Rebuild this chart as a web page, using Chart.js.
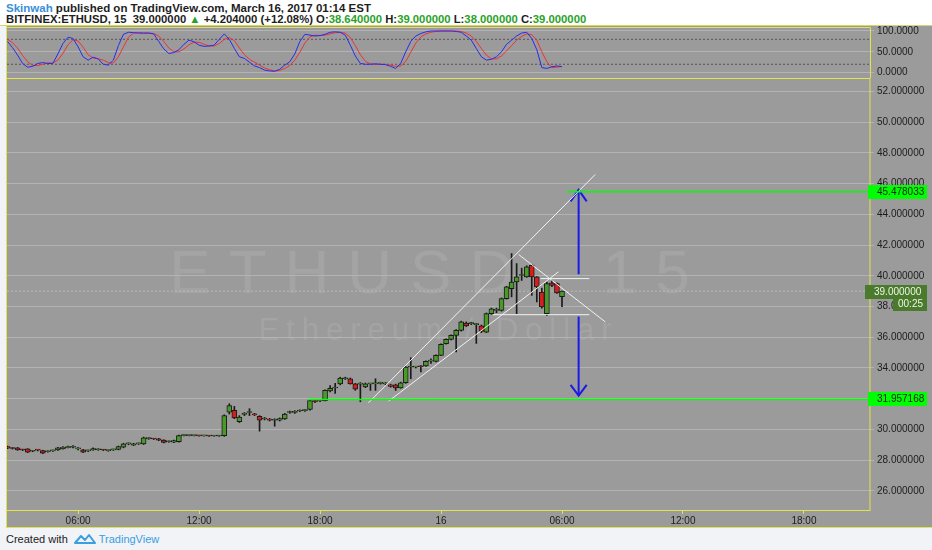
<!DOCTYPE html>
<html><head><meta charset="utf-8">
<script src="https://cdn.jsdelivr.net/npm/chart.js@4/dist/chart.umd.min.js"></script>
<style>
html,body{margin:0;padding:0;width:932px;height:550px;overflow:hidden;background:#f1f3f7;font-family:"Liberation Sans",Arial,sans-serif;}
#header{position:absolute;left:0;top:0;width:932px;height:26px;background:#ffffff;border-bottom:1px solid #d6d66a;box-sizing:border-box;}
.hl{position:absolute;left:6px;font-size:11.5px;font-weight:bold;color:#1e1e1e;white-space:nowrap;line-height:12px;}
.g{color:#2aa22a;}
#panel{position:absolute;left:6px;top:26px;width:926px;height:502px;background:#9b9b9b;box-sizing:border-box;border-left:1px solid #e3e34a;border-bottom:1px solid #e3e34a;}
.wm{position:absolute;white-space:nowrap;color:rgba(255,255,255,0.09);text-align:center;left:7px;width:863px;}
#wm1{top:241px;font-size:62px;line-height:62px;letter-spacing:18px;}
#wm2{top:314px;font-size:31px;line-height:31px;letter-spacing:7px;}
canvas{position:absolute;left:0;}
#stoch{top:26px;}
#main{top:78px;}
#footer{position:absolute;left:6px;top:532px;font-size:11px;color:#222;white-space:nowrap;line-height:14px;}
#footer .tv{color:#3a9ee0;}
</style></head>
<body>
<div id="header">
  <div class="hl" style="top:2px"><span style="color:#3b8fd8">Skinwah</span> published on TradingView.com, March 16, 2017 01:14 EST</div>
  <div class="hl" style="top:13px;font-size:11.3px">BITFINEX:ETHUSD, 15&nbsp; 39.000000 <span class="g">▲</span> +4.204000 (+12.08%) O:<span class="g">38.640000</span> H:<span class="g">39.000000</span> L:<span class="g">38.000000</span> C:<span class="g">39.000000</span></div>
</div>
<div id="panel"></div>
<div class="wm" id="wm1">ETHUSD, 15</div>
<div class="wm" id="wm2">Ethereum / Dollar</div>
<canvas id="stoch" width="932" height="52"></canvas>
<canvas id="main" width="932" height="450"></canvas>
<div id="footer">Created with &nbsp;<svg width="22" height="12" viewBox="0 0 22 12" style="vertical-align:-2px"><path d="M1 10 L7 3 L11 7 L15 2 L21 10 Z" fill="none" stroke="#3a9ee0" stroke-width="2" stroke-linejoin="round"/></svg> <span class="tv">TradingView</span></div>
<script>
// ---------- DATA ----------
const candleTimes = [
"02:30","02:45",
"03:00","03:15","03:30","03:45","04:00","04:15","04:30","04:45","05:00","05:15","05:30","05:45",
"06:00","06:15","06:30","06:45","07:00","07:15","07:30","07:45","08:00","08:15","08:30","08:45",
"09:00","09:15","09:30","09:45","10:00","10:15","10:30","10:45","11:00","11:15","11:30","11:45",
"12:00","12:15","12:30","12:45","13:00","13:15","13:30","13:45","14:00","14:15","14:30","14:45",
"15:00","15:15","15:30","15:45","16:00","16:15","16:30","16:45","17:00","17:15","17:30","17:45",
"18:00","18:15","18:30","18:45","19:00","19:15","19:30","19:45","20:00","20:15","20:30","20:45",
"21:00","21:15","21:30","21:45","22:00","22:15","22:30","22:45","23:00","23:15","23:30","23:45",
"00:00","00:15","00:30","00:45","01:00","01:15","01:30","01:45","02:00","02:15","02:30","02:45",
"03:00","03:15","03:30","03:45","04:00","04:15","04:30","04:45","05:00","05:15","05:30","05:45",
"06:00"];
const opens = [
28.88,28.78,28.80,28.68,28.73,28.58,28.67,28.62,28.55,28.60,
28.67,28.75,28.82,28.84,28.73,28.67,28.60,28.67,28.68,28.67,
28.62,28.67,28.70,28.84,29.06,28.98,29.06,29.06,29.40,29.39,
29.39,29.30,29.20,29.17,29.20,29.60,29.60,29.60,29.60,29.58,
29.58,29.57,29.57,29.60,31.12,31.25,30.51,30.98,31.10,31.02,
30.85,30.68,30.68,30.60,30.60,30.69,31.10,31.10,31.20,31.22,
31.30,31.88,31.85,31.88,32.50,32.70,32.97,33.30,33.30,32.97,
32.95,32.76,32.97,32.97,33.00,32.97,32.91,32.91,32.71,33.04,
34.05,34.06,34.13,34.13,34.45,34.43,34.82,35.58,35.86,36.12,
36.45,36.93,36.89,36.82,36.74,36.34,37.54,37.75,37.75,38.52,
39.17,39.60,40.02,39.93,40.69,39.93,38.95,37.54,39.54,39.50,38.64];
const highs = [
28.92,28.82,28.83,28.72,28.75,28.64,28.70,28.65,28.60,28.66,
28.83,28.88,28.92,28.95,28.82,28.70,28.66,28.80,28.74,28.70,
28.66,28.72,28.92,29.10,29.12,29.10,29.12,29.50,29.46,29.42,
29.42,29.33,29.25,29.30,29.64,29.65,29.64,29.62,29.62,29.60,
29.60,29.59,29.62,30.95,31.67,31.50,30.90,31.10,31.35,31.05,
30.90,30.78,30.72,30.70,30.75,31.05,31.20,31.22,31.28,31.30,
31.92,31.95,31.92,32.58,32.85,33.00,33.40,33.40,33.35,33.00,
33.05,33.02,33.00,33.30,33.08,33.05,32.95,32.95,33.08,34.10,
34.67,34.10,34.15,34.47,34.60,34.86,35.58,35.90,36.16,36.50,
37.05,37.00,36.98,36.90,36.80,37.58,37.90,37.90,38.56,39.32,
41.45,40.80,40.50,40.65,40.75,39.95,39.20,39.60,39.70,39.55,39.00];
const lows = [
28.74,28.72,28.64,28.62,28.49,28.55,28.60,28.42,28.52,28.57,
28.64,28.72,28.79,28.80,28.66,28.48,28.56,28.64,28.64,28.62,
28.58,28.63,28.67,28.80,29.00,28.95,29.02,29.02,29.35,29.34,
29.27,29.12,29.16,29.14,29.17,29.57,29.58,29.58,29.56,29.56,
29.55,29.55,29.55,29.55,31.00,30.70,30.45,30.90,30.90,30.90,
29.89,30.62,30.55,30.21,30.55,30.65,31.05,31.05,31.15,31.18,
31.25,31.75,31.80,31.85,32.45,32.35,32.90,33.25,32.95,32.55,
31.80,32.72,32.54,32.54,32.95,32.90,32.75,32.54,32.68,33.00,
33.30,34.00,33.74,34.10,34.30,34.40,34.80,35.55,35.82,35.04,
36.40,36.70,36.82,35.60,36.30,36.30,37.50,37.60,37.70,38.48,
38.63,37.54,39.70,39.90,38.73,38.30,37.90,37.40,39.30,38.85,38.00];
const closes = [
28.78,28.76,28.67,28.66,28.52,28.60,28.65,28.45,28.56,28.62,
28.80,28.84,28.88,28.90,28.74,28.52,28.62,28.75,28.70,28.66,
28.63,28.68,28.88,29.06,29.06,29.06,29.07,29.45,29.40,29.38,
29.30,29.15,29.20,29.27,29.60,29.60,29.61,29.60,29.58,29.58,
29.57,29.57,29.60,30.90,31.56,30.75,30.80,31.02,31.14,30.95,
30.60,30.70,30.60,30.60,30.70,31.00,31.12,31.18,31.22,31.25,
31.88,31.80,31.88,32.54,32.68,32.72,33.34,33.32,32.97,32.62,
32.98,32.97,32.98,32.97,33.02,32.98,32.80,32.70,33.04,34.06,
34.06,34.06,34.08,34.43,34.49,34.82,35.54,35.86,36.12,36.45,
37.00,36.74,36.90,36.84,36.38,37.54,37.86,37.76,38.52,39.28,
39.60,39.93,40.04,40.58,39.93,39.28,37.98,39.50,39.38,38.89,39.00];
const stochK = [
75,60,42,22,13,15,22,24,22,22,
45,70,85,82,62,38,30,37,33,20,
18,30,65,92,97,96,95,95,95,93,
75,57,46,48,55,68,78,74,66,63,
64,66,80,93,80,58,38,34,25,16,
12,6,4,3,8,18,26,45,75,92,
90,88,89,92,97,98,97,90,66,40,
22,20,20,21,20,19,15,10,22,50,
75,88,94,98,100,100,100,100,100,99,
97,88,78,58,38,30,32,38,50,68,
78,88,95,97,82,55,12,10,14,16,14];
const stochD = [
80,72,59,41,26,17,17,20,23,23,
30,46,67,79,76,61,43,35,33,30,
24,23,38,62,85,95,96,95,95,94,
88,75,59,50,50,57,67,73,73,68,
64,64,70,80,84,77,59,43,32,25,
18,11,7,4,5,10,17,30,49,71,
86,90,89,90,93,96,97,95,84,65,
43,27,21,20,20,20,18,15,16,27,
49,71,86,93,97,99,100,100,100,100,
99,95,88,75,58,42,33,33,40,52,
65,78,87,93,91,78,50,26,12,13,15];
const priceTicks = [26,28,30,32,34,36,38,40,42,44,46,48,50,52];
const stochTicks = [0,50,100];
const stochLevels = [20,80];
const xTickIndex = [14,38,62,86,110,134,158];
const xTickLabels = ["06:00","12:00","18:00","16","06:00","12:00","18:00"];
const levelUpper = 45.478033;
const levelLower = 31.957168;
const lastPrice = 39.0;
const countdown = "00:25";
// drawings, in [bar index, price]
const channelUpper = [[71.6,31.73],[116.6,46.6]];
const channelLower = [[75.6,31.84],[109.3,40.26]];
const triangleSlope = [[101.4,41.39],[118.6,37.0]];
const triangleTop = [[105.7,39.82],[115.4,39.82]];
const triangleBottom = [[96.3,37.47],[115.4,37.47]];
const arrowUpShaft = [[113.3,45.6],[113.3,40.1]];
const arrowUpHead = [[111.7,44.85],[113.3,45.6],[114.9,44.85]];
const arrowDownShaft = [[113.3,37.35],[113.3,32.2]];
const arrowDownHead = [[111.7,32.9],[113.3,32.2],[114.9,32.9]];
const levelUpperStart = 111.0;
const levelLowerStart = 59.6;

// ---------- CONFIG ----------
const X_MIN = -0.1, X_MAX = 171.1;
const Y_MIN = 24.69, Y_MAX = 52.88;
const S_MIN = -10.6, S_MAX = 109.6;
const YELLOW = '#e3e34a', GRID = '#b3b3b3', TXT = '#1c1c1c';
const GREEN = '#4a9a2a', RED = '#d41f1f', EDGE = '#1a1a1a';

const idx = candleTimes.map((t, i) => i);
const bodies = idx.map(i => ({x: i, y: [opens[i], closes[i]]}));
const wicks = idx.map(i => ({x: i, y: [lows[i], highs[i]]}));
const bodyColors = idx.map(i => closes[i] >= opens[i] ? GREEN : RED);
const pts = arr => arr.map(p => ({x: p[0], y: p[1]}));
const lineDs = (data, color, width, extra) => Object.assign({type: 'line', data, borderColor: color, borderWidth: width, pointRadius: 0, fill: false, tension: 0, order: 0}, extra || {});
const noPad = s => { s.paddingTop = 0; s.paddingBottom = 0; s.paddingLeft = 0; s.paddingRight = 0; };

const framePlugin = {
  id: 'frame',
  afterDraw(chart) {
    const {ctx, chartArea: a} = chart;
    ctx.save();
    ctx.strokeStyle = YELLOW; ctx.lineWidth = 1;
    ctx.strokeRect(Math.round(a.left) - 0.5, Math.round(a.top) + 0.5, Math.round(a.right - a.left) + 0.5, Math.round(a.bottom - a.top) - 1);
    ctx.restore();
  }
};
const stochFramePlugin = {
  id: 'sframe',
  afterDraw(chart) {
    const {ctx, chartArea: a} = chart;
    const l = Math.round(a.left) - 0.5, r = Math.round(a.right) + 0.5, t = Math.round(a.top) + 0.5, b = chart.height;
    ctx.save();
    ctx.strokeStyle = YELLOW; ctx.lineWidth = 1;
    ctx.beginPath();
    ctx.moveTo(l, b); ctx.lineTo(l, t); ctx.lineTo(r, t); ctx.lineTo(r, b);
    ctx.stroke();
    ctx.restore();
  }
};
const labelPlugin = {
  id: 'pricelabels',
  afterDraw(chart) {
    const {ctx, chartArea: a} = chart;
    const ys = chart.scales.y;
    ctx.save();
    ctx.font = '10px "Liberation Sans", Arial, sans-serif';
    ctx.textBaseline = 'middle';
    const box = (v, bg, fg, x0, x1, text, dy) => {
      const y = Math.round(ys.getPixelForValue(v)) + (dy || 0);
      ctx.fillStyle = bg; ctx.fillRect(x0, y - 7, x1 - x0, 14);
      ctx.fillStyle = fg; ctx.textAlign = 'left'; ctx.fillText(text, x0 + 9, y + 0.5);
    };
    box(levelUpper, '#00ff00', '#1c1c1c', a.right - 2, 927, levelUpper.toFixed(6));
    box(levelLower, '#00ff00', '#1c1c1c', a.right - 2, 927, levelLower.toFixed(6));
    box(lastPrice, '#4a7a2c', '#eef5e8', a.right - 5, 927, lastPrice.toFixed(6), 1);
    const y = Math.round(ys.getPixelForValue(lastPrice)) + 13;
    ctx.fillStyle = '#4a7a2c'; ctx.fillRect(893, y - 6, 34, 13);
    ctx.fillStyle = '#eef5e8'; ctx.fillText(countdown, 898, y + 0.5);
    ctx.restore();
  }
};

Chart.defaults.font.family = '"Liberation Sans", Arial, sans-serif';

new Chart(document.getElementById('main'), {
  type: 'bar',
  data: {datasets: [
    {type: 'bar', data: wicks, backgroundColor: EDGE, borderWidth: 0, barThickness: 1, grouped: false, order: 6},
    {type: 'bar', data: bodies, backgroundColor: bodyColors, borderColor: EDGE, borderWidth: 1, borderSkipped: false, barThickness: 5, grouped: false, minBarLength: 1, order: 5},
    lineDs([{x: X_MIN, y: lastPrice}, {x: X_MAX, y: lastPrice}], '#b8b8b8', 1, {borderDash: [2, 2], order: 7}),
    lineDs([{x: levelUpperStart, y: levelUpper}, {x: X_MAX, y: levelUpper}], '#00ff00', 1.5),
    lineDs([{x: levelLowerStart, y: levelLower}, {x: X_MAX, y: levelLower}], '#00ff00', 1.5),
    lineDs(pts(channelUpper), '#f2f2f2', 1),
    lineDs(pts(channelLower), '#f2f2f2', 1),
    lineDs(pts(triangleSlope), '#f2f2f2', 1),
    lineDs(pts(triangleTop), '#f2f2f2', 1),
    lineDs(pts(triangleBottom), '#f2f2f2', 1),
    lineDs(pts(arrowUpShaft), '#1a1ae6', 2),
    lineDs(pts(arrowUpHead), '#1a1ae6', 2),
    lineDs(pts(arrowDownShaft), '#1a1ae6', 2),
    lineDs(pts(arrowDownHead), '#1a1ae6', 2)
  ]},
  options: {
    responsive: false, animation: false, events: [],
    layout: {padding: {left: 7, right: 0, top: 0, bottom: 0}},
    plugins: {legend: {display: false}, tooltip: {enabled: false}},
    scales: {
      x: {type: 'linear', min: X_MIN, max: X_MAX, offset: false,
        afterFit(s) { s.height = 17; noPad(s); },
        afterBuildTicks(s) { s.ticks = xTickIndex.map(v => ({value: v})); },
        ticks: {callback: (v, i) => xTickLabels[i], font: {size: 10}, color: TXT, padding: 1, maxRotation: 0, autoSkip: false},
        grid: {drawOnChartArea: false, color: YELLOW, tickLength: 3, offset: false},
        border: {display: false}},
      y: {position: 'right', min: Y_MIN, max: Y_MAX,
        afterFit(s) { s.width = 62; noPad(s); },
        afterBuildTicks(s) { s.ticks = priceTicks.map(v => ({value: v})); },
        ticks: {callback: v => Number(v).toFixed(6), font: {size: 10}, color: TXT, padding: 3},
        grid: {color: GRID, tickLength: 4},
        border: {display: false}}
    }
  },
  plugins: [framePlugin, labelPlugin]
});

new Chart(document.getElementById('stoch'), {
  type: 'line',
  data: {datasets: [
    lineDs([{x: X_MIN, y: stochLevels[1]}, {x: X_MAX, y: stochLevels[1]}], '#555555', 1, {borderDash: [2, 2], order: 3}),
    lineDs([{x: X_MIN, y: stochLevels[0]}, {x: X_MAX, y: stochLevels[0]}], '#555555', 1, {borderDash: [2, 2], order: 3}),
    lineDs(idx.map(i => ({x: i, y: stochD[i]})), '#ee3333', 1, {order: 1}),
    lineDs(idx.map(i => ({x: i, y: stochK[i]})), '#2a2af0', 1, {order: 0})
  ]},
  options: {
    responsive: false, animation: false, events: [],
    layout: {padding: {left: 7, right: 0, top: 1, bottom: 1}},
    plugins: {legend: {display: false}, tooltip: {enabled: false}},
    scales: {
      x: {type: 'linear', min: X_MIN, max: X_MAX, display: false},
      y: {position: 'right', min: S_MIN, max: S_MAX,
        afterFit(s) { s.width = 62; noPad(s); },
        afterBuildTicks(s) { s.ticks = stochTicks.map(v => ({value: v})); },
        ticks: {callback: v => Number(v).toFixed(4), font: {size: 10}, color: TXT, padding: 3},
        grid: {color: GRID, tickLength: 4},
        border: {display: false}}
    }
  },
  plugins: [stochFramePlugin]
});
</script>
</body></html>
